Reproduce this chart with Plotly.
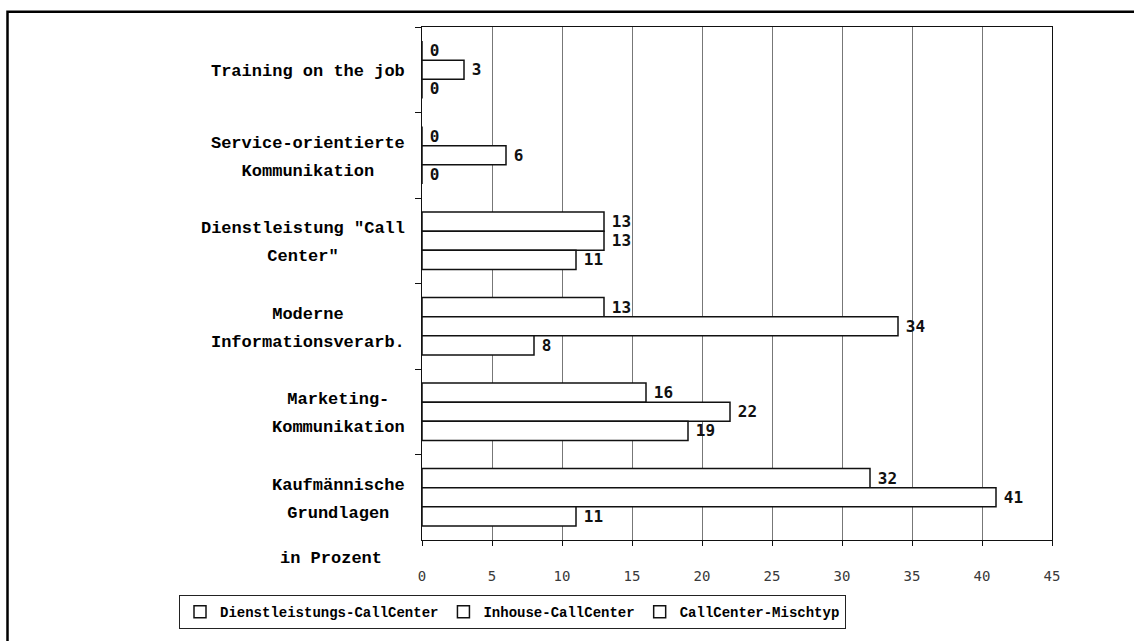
import plotly.graph_objects as go

# Categories (top to bottom), each split into its display lines
categories = [
    "Training on the job",
    "Service-orientierte<br>Kommunikation",
    "Dienstleistung \"Call<br>Center\"",
    "Moderne<br>Informationsverarb.",
    "Marketing-<br>Kommunikation",
    "Kaufmännische<br>Grundlagen",
]

series_names = ["Dienstleistungs-CallCenter", "Inhouse-CallCenter", "CallCenter-Mischtyp"]
dienstleistung = [0, 0, 13, 13, 16, 32]
inhouse = [3, 6, 13, 34, 22, 41]
mischtyp = [0, 0, 11, 8, 19, 11]
series_values = [dienstleistung, inhouse, mischtyp]

x_ticks = [0, 5, 10, 15, 20, 25, 30, 35, 40, 45]
axis_caption = "in Prozent"

W, H = 1134, 641
M_L, M_R, M_T, M_B = 422, 82, 27, 94
PW = W - M_L - M_R
PH = H - M_T - M_B

LABEL_FONT = "Liberation Mono, Courier New, monospace"
VALUE_FONT = "DejaVu Sans Mono, monospace"
CAT_SIZE = 17


def px_x(px):
    return (px - M_L) / PW


def px_y(py):
    return (H - M_B - py) / PH


fig = go.Figure()
for name, vals in zip(series_names, series_values):
    fig.add_trace(go.Bar(
        y=categories,
        x=vals,
        name=name,
        orientation="h",
        marker=dict(color="white", line=dict(color="#111111", width=1.5)),
        text=[str(v) for v in vals],
        # a narrow non-breaking space keeps the value a little off the bar end
        texttemplate="<span style='font-size:8px'>\u00a0</span>%{text}",
        textposition="outside",
        constraintext="none",
        cliponaxis=False,
        textfont=dict(family=VALUE_FONT, size=16, color="#111111", weight="bold"),
        hoverinfo="skip",
    ))

# Category labels: each line centred within the block of its longest line
annotations = []
line_gap = 28
for cat in categories:
    lines = cat.split("<br>")
    longest = max(len(l) for l in lines)
    block_w = longest * 0.6 * CAT_SIZE + 4
    n = len(lines)
    for i, line in enumerate(lines):
        offset = ((n - 1) / 2 - i) * line_gap - 2
        annotations.append(dict(
            x=px_x(409), xref="paper", y=cat, yref="y",
            text=line, showarrow=False, xanchor="right", yanchor="middle",
            align="center", width=block_w, yshift=offset,
            font=dict(family=LABEL_FONT, size=CAT_SIZE, color="black", weight="bold"),
        ))

annotations.append(dict(
    x=px_x(331), xref="paper", y=px_y(566), yref="paper",
    text=axis_caption, showarrow=False, xanchor="center", yanchor="middle",
    font=dict(family=LABEL_FONT, size=CAT_SIZE, color="black", weight="bold"),
))

fig.update_layout(
    template="none",
    width=W, height=H,
    margin=dict(l=M_L, r=M_R, t=M_T, b=M_B, pad=0),
    paper_bgcolor="white", plot_bgcolor="white",
    barmode="group", bargap=0.33, bargroupgap=0,
    showlegend=True,
    legend=dict(
        orientation="h",
        x=px_x(179), y=px_y(603), xanchor="left", yanchor="top",
        bordercolor="#222222", borderwidth=1, bgcolor="white",
        font=dict(family=LABEL_FONT, size=14, color="black", weight="bold"),
        itemwidth=30, traceorder="normal",
    ),
    xaxis=dict(
        range=[0, 45], tickvals=x_ticks, ticktext=[str(t) for t in x_ticks],
        showgrid=True, gridcolor="#777777", gridwidth=1,
        showline=True, linecolor="#111111", linewidth=1, mirror=True,
        ticks="outside", ticklen=5, tickcolor="#111111",
        ticklabelstandoff=18,
        tickfont=dict(family=VALUE_FONT, size=14, color="#3a3a3a"),
        zeroline=False, fixedrange=True,
    ),
    yaxis=dict(
        autorange="reversed", type="category",
        showticklabels=False, showgrid=False,
        showline=True, linecolor="#111111", linewidth=1, mirror=True,
        ticks="outside", ticklen=6, tickcolor="#111111", tickson="boundaries",
        zeroline=False, fixedrange=True,
    ),
    annotations=annotations,
    shapes=[dict(
        type="rect", xref="paper", yref="paper",
        x0=px_x(7.5), x1=px_x(1250), y0=px_y(700), y1=px_y(11.5),
        line=dict(color="black", width=2.5), fillcolor="rgba(0,0,0,0)", layer="below",
    )],
)

fig.write_html("out.html", config={"displayModeBar": False})
